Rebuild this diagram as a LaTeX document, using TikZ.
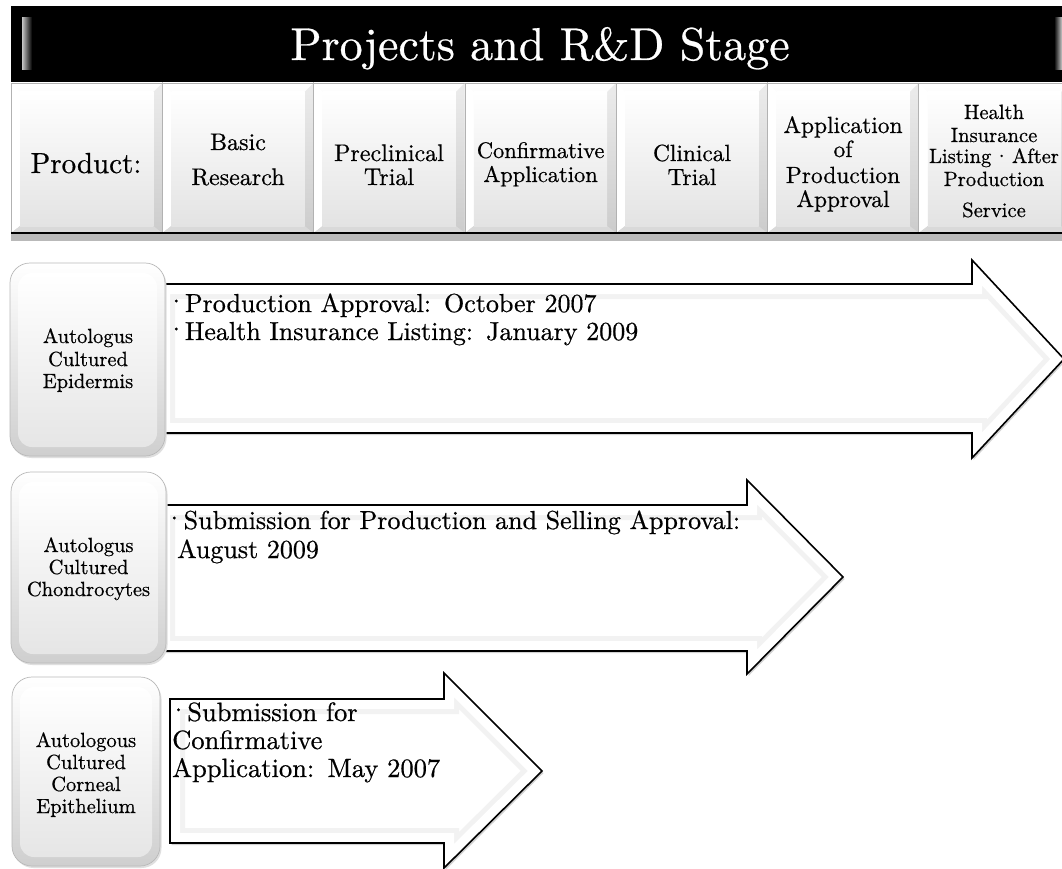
\documentclass[tikz,border=0pt]{standalone}
\usepackage{fontspec}
\setmainfont{lmroman10-regular.otf}[FakeBold=0.6]
\usetikzlibrary{calc}

% font size helper
\newcommand\setfs[1]{\fontsize{#1}{#1}\selectfont}
% middle-dot bullet of a given width
\newcommand\bul[1]{\makebox[#1][l]{\raisebox{0.08em}{·}}}

% bevelled stage cell in the header strip
\newcommand\stagecell[2]{%
  \shade[top color=white, bottom color=gray!40] (#1,83) rectangle (#2,233);
  \fill[white] (#1,83) -- (#1+9,92) -- (#1+9,226) -- (#1,233) -- cycle;
  \shade[top color=gray!15, bottom color=gray!40] (#2,83) -- (#2-9,92) -- (#2-9,226) -- (#2,233) -- cycle;
  \fill[gray!30] (#1,233) -- (#1+9,226) -- (#2-9,226) -- (#2,233) -- cycle;
  \shade[top color=white, bottom color=gray!22] (#1+9,92) rectangle (#2-9,226);
  \draw[gray!60, line width=0.8pt] (#1,83) rectangle (#2,233);
}

% rounded product box on the left of each row
\newcommand\rowbox[4]{%
  \fill[gray!25, rounded corners=20pt] (#1+1.5,#2+2) rectangle (#3+1.5,#4+2);
  \shade[top color=white, bottom color=gray!38, rounded corners=20pt,
         draw=gray!55, line width=0.7pt] (#1,#2) rectangle (#3,#4);
  \shade[top color=white, bottom color=gray!20, rounded corners=14pt]
         (#1+8,#2+10) rectangle (#3-8,#4-9);
}

% block arrow: left x, body top, body bottom, neck x, head top, head bottom, tip x, tip y
\newcommand\stagearrow[8]{%
  \fill[gray!35, xshift=1.5pt, yshift=-2pt]
    (#1,#2) -- (#4,#2) -- (#4,#5) -- (#7,#8) -- (#4,#6) -- (#4,#3) -- (#1,#3) -- cycle;
  \fill[white]
    (#1,#2) -- (#4,#2) -- (#4,#5) -- (#7,#8) -- (#4,#6) -- (#4,#3) -- (#1,#3) -- cycle;
  \begin{scope}
    \clip (#1,#2) -- (#4,#2) -- (#4,#5) -- (#7,#8) -- (#4,#6) -- (#4,#3) -- (#1,#3) -- cycle;
    \draw[gray!10, line width=30pt, line join=miter]
      (#1,#2) -- (#4,#2) -- (#4,#5) -- (#7,#8) -- (#4,#6) -- (#4,#3) -- (#1,#3) -- cycle;
    \draw[white, line width=20pt, line join=miter]
      (#1,#2) -- (#4,#2) -- (#4,#5) -- (#7,#8) -- (#4,#6) -- (#4,#3) -- (#1,#3) -- cycle;
  \end{scope}
  \draw[black, line width=1.6pt, line join=miter]
    (#1,#2) -- (#4,#2) -- (#4,#5) -- (#7,#8) -- (#4,#6) -- (#4,#3) -- (#1,#3) -- cycle;
}

\begin{document}
\begin{tikzpicture}[x=1pt, y=-1pt,
  lbl/.style={inner sep=0pt, anchor=base},
  lblw/.style={inner sep=0pt, anchor=base west},
  hdrA/.style={lbl, font=\setfs{24}},
  hdrB/.style={lbl, font=\setfs{22.5}},
  hdrC/.style={lbl, font=\setfs{23.4}},
  hdrD/.style={lbl, font=\setfs{20.6}},
  prod/.style={lbl, font=\setfs{20.5}},
  note/.style={lblw, font=\setfs{26}},
  noteL/.style={lblw, font=\setfs{26.5}}]

\useasboundingbox (0,0) rectangle (1062,869);
\clip (0,0) rectangle (1062,869);
\fill[white] (0,0) rectangle (1062,869);

% title bar
\fill[black] (11,6) rectangle (1080,83);
\shade[left color=gray!45, right color=black] (22,18) rectangle (32,70);
\shade[left color=black, right color=gray!40] (1054,18) rectangle (1062,70);
\node[lbl, font=\setfs{46}, text=white] (title) at (540,60) {Projects and R\&D Stage};

% header cells
\foreach \k in {0,...,6}{
  \pgfmathsetmacro\xa{11+151.3*\k}
  \pgfmathsetmacro\xb{\xa+151.3}
  \stagecell{\xa}{\xb}
}
\fill[gray!55] (11,234) rectangle (1080,241);
\draw[black, line width=2.5pt] (11,233) -- (1080,233);

% header labels
\node[lbl, font=\setfs{29}] (product) at (86,173) {Product:};
\node[hdrA] (basicA) at (238,150) {Basic};
\node[hdrA] (basicB) at (238,185) {Research};
\node[hdrA] (preA) at (389,161) {Preclinical};
\node[hdrA] (preB) at (389,185) {Trial};
\node[hdrB] (confA) at (540.6,158) {Confirmative};
\node[hdrB] (confB) at (540.6,182) {Application};
\node[hdrC] (clinA) at (692,161) {Clinical};
\node[hdrC] (clinB) at (692,185) {Trial};
\node[hdrC] (apA) at (843,133) {Application};
\node[hdrC] (apB) at (843,157) {of};
\node[hdrC] (apC) at (843,183) {Production};
\node[hdrC] (apD) at (843,207) {Approval};
\node[hdrD] (hiA) at (994,119) {Health};
\node[hdrD] (hiB) at (994,142) {Insurance};
\node[hdrD] (hiC) at (994,163) {Listing\makebox[1em]{·}After};
\node[hdrD] (hiD) at (994,186) {Production};
\node[hdrD] (hiE) at (994,217) {Service};

% progress arrows
\stagearrow{160}{284}{433}{972}{260}{458}{1064}{359}
\stagearrow{160}{505}{651}{747}{480}{674}{843}{577}
\stagearrow{170}{699}{843}{444}{673}{868}{542}{771}

% product boxes
\rowbox{10}{263}{165}{456}
\rowbox{11}{472}{166}{663}
\rowbox{12}{677}{160}{866}

% product names
\node[prod] (epA) at (88,343) {Autologus};
\node[prod] (epB) at (88,366) {Cultured};
\node[prod] (epC) at (88,388) {Epidermis};
\node[prod] (chA) at (88.5,552) {Autologus};
\node[prod] (chB) at (88.5,574) {Cultured};
\node[prod] (chC) at (88.5,596) {Chondrocytes};
\node[prod] (coA) at (86,747) {Autologous};
\node[prod] (coB) at (86,769) {Cultured};
\node[prod] (coC) at (86,791) {Corneal};
\node[prod] (coD) at (86,813) {Epithelium};

% status notes inside the arrows
\node[note] (epNoteA) at (166,312) {\bul{0.72em}Production Approval:\enspace October 2007};
\node[note] (epNoteB) at (166,340) {\bul{0.72em}Health Insurance Listing:\enspace January 2009};
\node[note] (chNoteA) at (164,529) {\bul{0.75em}Submission for Production and Selling Approval:};
\node[note] (chNoteB) at (177,558) {August 2009};
\node[noteL] (coNoteA) at (168,721) {\bul{0.72em}Submission for};
\node[noteL] (coNoteB) at (172,749) {Confirmative};
\node[noteL] (coNoteC) at (172,777) {Application:\enspace May 2007};

\end{tikzpicture}
\end{document}
